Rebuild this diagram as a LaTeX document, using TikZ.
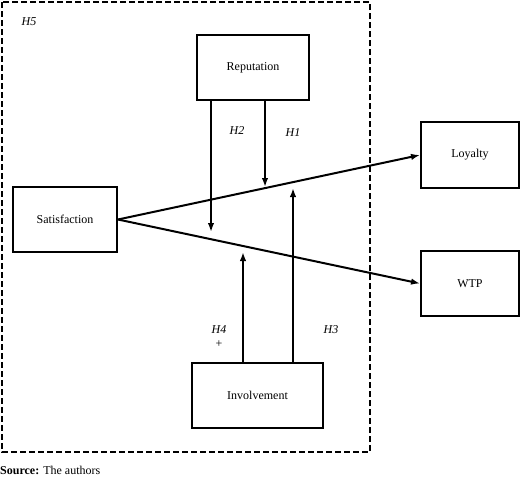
\documentclass[tikz,border=0pt]{standalone}
\usepackage{fontspec}
\setmainfont{Liberation Serif}
\usetikzlibrary{arrows.meta,positioning}
\tikzset{
  construct/.style={draw, line width=2pt, inner sep=0pt, font=\fontsize{12}{14}\selectfont},
  link/.style={-{Latex[length=9pt,width=6.5pt]}, line width=2pt},
  hyp/.style={font=\fontsize{12}{14}\selectfont\itshape, inner sep=0pt}
}
\begin{document}
\begin{tikzpicture}[x=1pt,y=-1pt]
  \useasboundingbox (0,0) rectangle (520,483);
  % moderation frame
  \draw[line width=2pt, dash pattern=on 6pt off 3pt] (2,2) rectangle (370,452);
  \node[hyp] (h5) at (29,22) {H5};
  % constructs
  \node[construct, minimum width=112pt, minimum height=65pt] (rep) at (253,67.5) {Reputation};
  \node[construct, minimum width=104pt, minimum height=65pt] (sat) at (65,219.5) {Satisfaction};
  \node[construct, minimum width=98pt, minimum height=66pt] (loy) at (470,155) {Loyalty};
  \node[construct, minimum width=98pt, minimum height=65pt] (wtp) at (470,283.5) {WTP};
  \node[construct, minimum width=131pt, minimum height=65pt] (inv) at (257.5,395.5) {Involvement};
  % main paths
  \draw[link] (sat.east) -- (loy.west);
  \draw[link] (sat.east) -- (wtp.west);
  % moderating paths
  \coordinate (h2tip) at (211,232);
  \coordinate (h1tip) at (265,187);
  \coordinate (h4tip) at (243,252);
  \coordinate (h3tip) at (293,188);
  \draw[link] (rep.south -| h2tip) -- (h2tip);
  \draw[link] (rep.south -| h1tip) -- (h1tip);
  \draw[link] (inv.north -| h4tip) -- (h4tip);
  \draw[link] (inv.north -| h3tip) -- (h3tip);
  \node[hyp] (h2) at (237,131) {H2};
  \node[hyp] (h1) at (293,133) {H1};
  \node[hyp] (h4) at (219,330) {H4};
  \node[font=\fontsize{12}{14}\selectfont, inner sep=0pt] (plus) at (219,344) {+};
  \node[hyp] (h3) at (331,330) {H3};
  % note
  \node[anchor=west, inner sep=0pt, font=\fontsize{12}{14}\selectfont] (src) at (0,470) {\textbf{Source:} The authors};
\end{tikzpicture}
\end{document}
